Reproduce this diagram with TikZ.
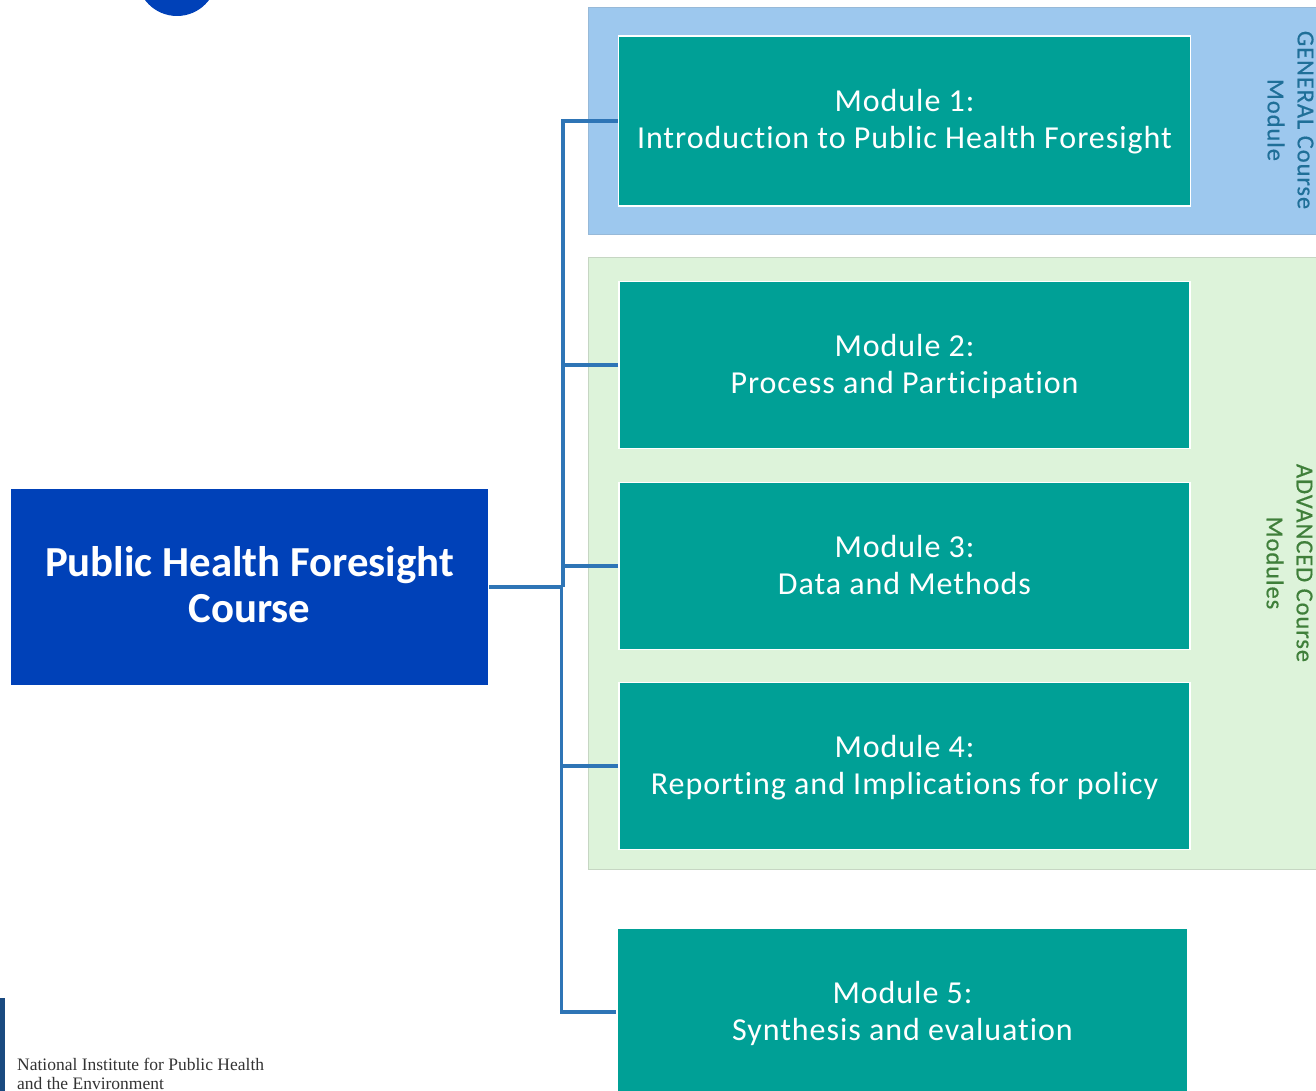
\documentclass[tikz,border=0pt]{standalone}
\usepackage{fontspec}
\setmainfont{Carlito}[LetterSpace=3,Ligatures=NoCommon]
\newfontfamily\titlefont{Carlito}[Ligatures=NoCommon]
\newfontfamily\sidefont{Carlito}[LetterSpace=4,Ligatures=NoCommon,FakeBold=0.5]
\newfontfamily\logofont{Liberation Serif}
\definecolor{teal1}{HTML}{00A096}
\definecolor{navy1}{HTML}{0041B8}
\definecolor{line1}{HTML}{2E75B6}
\definecolor{bandblue}{HTML}{9DC8EE}
\definecolor{bandgreen}{HTML}{DDF3DA}
\definecolor{labblue}{HTML}{1F6F98}
\definecolor{labgreen}{HTML}{3F7F3A}
\definecolor{logobar}{HTML}{1A4A80}
\newcommand{\modlines}[2]{\rule{0pt}{26pt}#1\\#2\rule[-7pt]{0pt}{0pt}}
\tikzset{
  x=1pt,y=-1pt,
  modbox/.style={draw=white,line width=1.8pt,fill=teal1,text=white,align=center,inner sep=0pt,
    font=\fontsize{32}{37}\selectfont},
  rootbox/.style={draw=white,line width=1.8pt,fill=navy1,text=white,align=center,inner sep=0pt,
    font=\titlefont\bfseries\fontsize{42.8}{46}\selectfont},
  conn/.style={draw=line1,line width=3.4pt},
  sidelab/.style={rotate=-90,align=center,inner sep=0pt,font=\sidefont\fontsize{24.4}{30}\selectfont},
  bandbox/.style={inner sep=0pt,minimum width=740pt,anchor=north west}
}
\begin{document}
\begin{tikzpicture}
\useasboundingbox (0,0) rectangle (1316,1091);
\clip (0,0) rectangle (1316,1091);
\fill[fill=white] (0,0) rectangle (1316,1091);
\node[circle,fill=navy1,inner sep=0pt,minimum size=80pt] (dot) at (177,-24) {};
\node[bandbox,fill=bandblue,draw=bandblue!80!gray,line width=.8pt,minimum height=227pt] (general) at (588,7.5) {};
\node[bandbox,fill=bandgreen,draw=bandgreen!75!gray,line width=.8pt,minimum height=612pt] (advanced) at (588,257) {};
\node[modbox,minimum width=572pt,minimum height=170pt] (m1) at (904.5,121) {\modlines{Module 1:}{Introduction to Public Health Foresight}};
\node[modbox,minimum width=571pt,minimum height=167pt] (m2) at (904.5,365) {\modlines{Module 2:}{Process and Participation}};
\node[modbox,minimum width=571pt,minimum height=167pt] (m3) at (904.5,566) {\modlines{Module 3:}{Data and Methods}};
\node[modbox,minimum width=571pt,minimum height=167pt] (m4) at (904.5,766) {\modlines{Module 4:}{Reporting and Implications for policy}};
\node[modbox,minimum width=571pt,minimum height=168pt] (m5) at (902.5,1012) {\modlines{Module 5:}{Synthesis and evaluation}};
\node[rootbox,minimum width=478pt,minimum height=197pt] (root) at (249.5,587) {Public Health Foresight\\Course\rule[-5pt]{0pt}{0pt}};
\coordinate (j) at (563,587);
\coordinate (k) at (561.5,587);
\draw[conn] (root.east) -- (j);
\draw[conn] (m1.west) -- (m1.west -| j) -- (j);
\draw[conn] (k) -- (m5.west -| k) -- (m5.west);
\draw[conn] (m2.west) -- (m2.west -| j);
\draw[conn] (m3.west) -- (m3.west -| j);
\draw[conn] (m4.west) -- (m4.west -| k);
\node[sidelab,text=labblue] (labg) at (1290.5,120) {GENERAL Course\\Module};
\node[sidelab,text=labgreen] (laba) at (1289.5,563) {ADVANCED Course\\Modules};
\fill[fill=logobar] (0,998) rectangle (5,1091);
\node[anchor=north west,inner sep=0pt,align=left,text=black!80,font=\logofont\fontsize{17.5}{18.6}\selectfont] (logo) at (17,1058) {National Institute for Public Health\\and the Environment};
\end{tikzpicture}
\end{document}
